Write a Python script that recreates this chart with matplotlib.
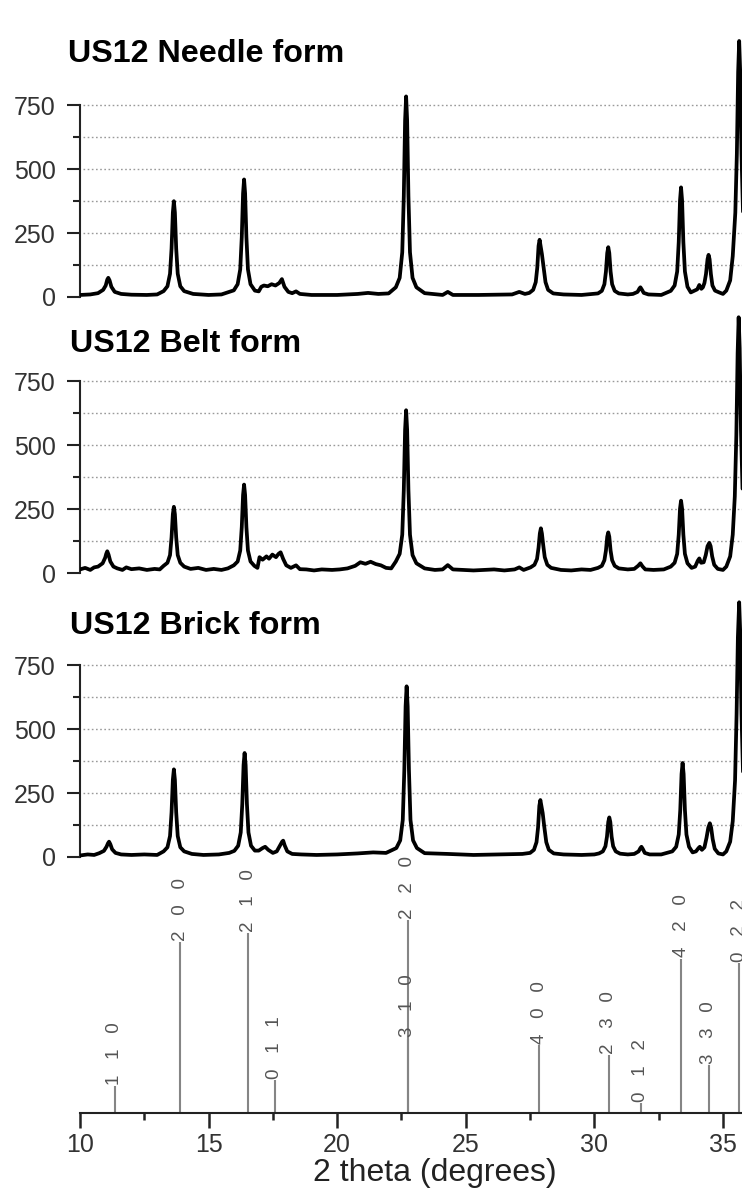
import matplotlib
matplotlib.use("Agg")
import matplotlib.pyplot as plt
from matplotlib.ticker import FixedLocator

plt.rcParams['font.family'] = ['Liberation Sans', 'DejaVu Sans']

# ---------------- data ----------------
needle_2theta = [10.0, 10.4, 10.7, 10.9, 11.0, 11.06, 11.10, 11.15, 11.22, 11.35,
                 11.6, 12.0, 12.6, 13.0, 13.25, 13.40, 13.50, 13.56, 13.61, 13.65,
                 13.69, 13.74, 13.80, 13.90, 14.05, 14.4, 15.0, 15.5, 15.98, 16.13,
                 16.23, 16.29, 16.34, 16.38, 16.42, 16.47, 16.53, 16.63, 16.8, 16.95,
                 17.05, 17.15, 17.3, 17.45, 17.6, 17.75, 17.85, 17.95, 18.1, 18.25,
                 18.4, 18.55, 19.0, 20.0, 20.8, 21.2, 21.6, 22.0, 22.28, 22.43,
                 22.53, 22.59, 22.64, 22.68, 22.72, 22.77, 22.83, 22.93, 23.08, 23.4,
                 24.1, 24.3, 24.5, 25.5, 26.8, 27.08, 27.3, 27.47, 27.62, 27.72,
                 27.78, 27.83, 27.87, 27.91, 27.96, 28.02, 28.10, 28.2, 28.4, 28.8,
                 29.5, 30.14, 30.29, 30.39, 30.45, 30.50, 30.54, 30.58, 30.63, 30.69,
                 30.79, 30.95, 31.3, 31.5, 31.68, 31.75, 31.79, 31.84, 31.92, 32.1,
                 32.6, 32.97, 33.12, 33.22, 33.28, 33.33, 33.37, 33.41, 33.46, 33.52,
                 33.62, 33.75, 33.9, 34.0, 34.08, 34.16, 34.22, 34.28, 34.34, 34.40,
                 34.44, 34.48, 34.53, 34.59, 34.69, 34.85, 35.0, 35.13, 35.28, 35.38,
                 35.48, 35.54, 35.59, 35.63, 35.67, 35.72, 35.78]
needle_counts = [8, 10, 15, 28, 45, 68, 75, 65, 40, 20,
                 12, 9, 8, 10, 23, 42, 91, 190, 330, 375,
                 330, 190, 91, 42, 23, 12, 8, 10, 26, 50,
                 108, 235, 405, 460, 405, 235, 108, 50, 25, 22,
                 40, 45, 42, 50, 45, 55, 70, 40, 20, 15,
                 22, 12, 8, 8, 12, 16, 12, 14, 38, 75,
                 175, 395, 690, 785, 690, 395, 175, 75, 38, 15,
                 8, 20, 8, 8, 10, 20, 12, 16, 28, 58,
                 115, 200, 224, 200, 168, 120, 58, 28, 14, 10,
                 8, 14, 24, 50, 100, 172, 195, 172, 100, 50,
                 24, 14, 10, 12, 20, 33, 38, 30, 16, 10,
                 8, 24, 45, 100, 215, 378, 429, 378, 215, 100,
                 40, 18, 25, 30, 47, 32, 38, 55, 90, 148,
                 165, 148, 90, 45, 25, 18, 12, 25, 65, 160,
                 330, 560, 880, 1002, 880, 560, 330]

belt_2theta = [10.0, 10.2, 10.4, 10.55, 10.7, 10.88, 10.98, 11.02, 11.06, 11.11,
               11.18, 11.3, 11.45, 11.65, 11.8, 12.0, 12.3, 12.6, 12.9, 13.1,
               13.25, 13.40, 13.50, 13.56, 13.61, 13.65, 13.69, 13.74, 13.80, 13.90,
               14.05, 14.3, 14.6, 14.9, 15.2, 15.5, 15.75, 15.98, 16.13, 16.23,
               16.29, 16.34, 16.38, 16.42, 16.47, 16.53, 16.63, 16.78, 16.9, 16.98,
               17.1, 17.25, 17.35, 17.48, 17.62, 17.72, 17.8, 17.9, 18.02, 18.2,
               18.4, 18.55, 18.8, 19.1, 19.4, 19.8, 20.1, 20.4, 20.7, 20.9,
               21.1, 21.3, 21.5, 21.7, 21.9, 22.1, 22.28, 22.43, 22.53, 22.59,
               22.64, 22.68, 22.72, 22.77, 22.83, 22.93, 23.08, 23.4, 23.8, 24.1,
               24.3, 24.5, 24.9, 25.3, 25.7, 26.1, 26.5, 26.9, 27.08, 27.25,
               27.52, 27.67, 27.77, 27.83, 27.88, 27.92, 27.96, 28.01, 28.07, 28.17,
               28.32, 28.7, 29.1, 29.5, 29.85, 30.14, 30.29, 30.39, 30.45, 30.50,
               30.54, 30.58, 30.63, 30.69, 30.79, 30.95, 31.3, 31.55, 31.7, 31.79,
               31.87, 31.98, 32.3, 32.7, 32.97, 33.12, 33.22, 33.28, 33.33, 33.37,
               33.41, 33.46, 33.52, 33.62, 33.78, 33.92, 34.02, 34.08, 34.15, 34.25,
               34.33, 34.40, 34.47, 34.52, 34.58, 34.66, 34.8, 35.0, 35.13, 35.28,
               35.38, 35.46, 35.52, 35.57, 35.61, 35.65, 35.70, 35.76]
belt_counts = [14, 20, 12, 22, 25, 38, 60, 75, 85, 72,
               45, 25, 18, 12, 22, 15, 18, 12, 16, 14,
               28, 40, 70, 140, 230, 259, 230, 140, 70, 40,
               25, 16, 20, 12, 16, 12, 18, 30, 45, 88,
               180, 305, 346, 305, 180, 88, 45, 28, 20, 62,
               52, 65, 56, 72, 62, 75, 81, 55, 30, 20,
               30, 15, 14, 10, 14, 12, 14, 18, 28, 42,
               36, 44, 35, 30, 20, 18, 45, 75, 150, 325,
               560, 637, 560, 325, 150, 70, 38, 18, 12, 14,
               31, 14, 12, 10, 12, 14, 10, 14, 22, 12,
               22, 32, 55, 100, 155, 175, 155, 110, 62, 32,
               20, 12, 10, 14, 12, 20, 28, 50, 88, 142,
               159, 142, 88, 50, 28, 18, 14, 16, 28, 38,
               26, 14, 12, 14, 25, 40, 75, 150, 252, 283,
               252, 150, 75, 38, 20, 25, 48, 57, 40, 42,
               70, 105, 118, 105, 65, 32, 16, 12, 25, 65,
               150, 300, 540, 860, 1001, 880, 560, 330]

brick_2theta = [10.0, 10.3, 10.55, 10.75, 10.93, 11.03, 11.09, 11.13, 11.18, 11.25,
                11.38, 11.6, 12.0, 12.5, 13.0, 13.25, 13.40, 13.50, 13.56, 13.61,
                13.65, 13.69, 13.74, 13.80, 13.90, 14.05, 14.35, 14.8, 15.4, 15.8,
                16.00, 16.15, 16.25, 16.31, 16.36, 16.40, 16.44, 16.49, 16.55, 16.65,
                16.8, 16.95, 17.1, 17.2, 17.32, 17.5, 17.65, 17.78, 17.86, 17.9,
                17.96, 18.06, 18.25, 18.6, 19.2, 20.0, 20.8, 21.4, 21.9, 22.30,
                22.45, 22.55, 22.61, 22.66, 22.70, 22.74, 22.79, 22.85, 22.95, 23.10,
                23.4, 24.3, 25.3, 26.3, 27.2, 27.50, 27.65, 27.75, 27.81, 27.86,
                27.90, 27.94, 27.99, 28.05, 28.13, 28.23, 28.42, 28.8, 29.5, 30.0,
                30.18, 30.33, 30.43, 30.49, 30.54, 30.58, 30.62, 30.67, 30.73, 30.83,
                31.0, 31.3, 31.55, 31.72, 31.79, 31.83, 31.88, 31.96, 32.15, 32.6,
                33.03, 33.18, 33.28, 33.34, 33.39, 33.43, 33.47, 33.52, 33.58, 33.68,
                33.82, 33.95, 34.05, 34.1, 34.18, 34.28, 34.36, 34.43, 34.49, 34.54,
                34.6, 34.68, 34.82, 35.0, 35.13, 35.28, 35.38, 35.47, 35.53, 35.58,
                35.63, 35.67, 35.72, 35.78]
brick_counts = [6, 10, 8, 15, 24, 40, 54, 60, 50, 30,
                16, 10, 8, 10, 8, 22, 38, 82, 175, 302,
                343, 302, 175, 82, 38, 22, 12, 8, 10, 16,
                24, 44, 96, 208, 360, 407, 360, 208, 96, 44,
                25, 25, 35, 40, 28, 16, 22, 45, 60, 64,
                45, 22, 12, 10, 8, 10, 14, 18, 16, 35,
                65, 145, 340, 590, 668, 590, 340, 145, 65, 35,
                15, 12, 8, 10, 12, 16, 28, 58, 115, 200,
                223, 200, 172, 120, 58, 28, 14, 10, 8, 10,
                14, 22, 42, 80, 137, 155, 137, 80, 42, 22,
                13, 10, 12, 22, 35, 40, 32, 16, 10, 10,
                22, 40, 88, 185, 325, 368, 325, 185, 88, 40,
                18, 22, 35, 40, 28, 38, 75, 115, 132, 115,
                70, 32, 14, 10, 22, 60, 140, 300, 560, 860,
                997, 880, 560, 330]

panel_titles = ["US12 Needle form", "US12 Belt form", "US12 Brick form"]
panel_x = [needle_2theta, belt_2theta, brick_2theta]
panel_y = [needle_counts, belt_counts, brick_counts]

y_major_ticks = [0, 250, 500, 750]
y_minor_ticks = [125, 375, 625]
grid_levels = [125, 250, 375, 500, 625, 750]

ref_hkl = ["110", "200", "210", "011", "310", "220", "400", "230", "012", "420", "330", "022"]
ref_2theta = [11.36, 13.89, 16.55, 17.58, 22.74, 22.74, 27.86, 30.55, 31.81, 33.37, 34.44, 35.63]
ref_intensity = [13.9, 88.7, 93.1, 17.0, 38.5, 100.0, 35.0, 30.0, 4.8, 80.0, 24.7, 77.5]

x_major_ticks = [10, 15, 20, 25, 30, 35]
x_minor_ticks = [12.5, 17.5, 22.5, 27.5, 32.5]
x_label = "2 theta (degrees)"

# ---------------- layout ----------------
W, H = 742, 1191
fig = plt.figure(figsize=(W / 100, H / 100), dpi=100)

XMIN, XMAX = 10.0, 35.74
left = 80 / W
width = 1 - left

px_per_count = 0.2555
ylo, yhi = -20, 1020
panel_h_px = (yhi - ylo) * px_per_count
zero_rows = [297, 573, 857]
title_baselines = [61.7, 351.7, 634.3]
title_lefts = [68.3, 70, 70]

for i in range(3):
    bottom_px = zero_rows[i] + (-ylo) * px_per_count
    ax = fig.add_axes([left, 1 - bottom_px / H, width, panel_h_px / H])
    ax.set_facecolor('none')
    ax.set_xlim(XMIN, XMAX)
    ax.set_ylim(ylo, yhi)
    ax.hlines(grid_levels, XMIN + 0.12, XMAX, colors='#9a9a9a', linewidth=1.0,
              linestyles=(0, (1.2, 1.8)), zorder=1)
    ax.plot(panel_x[i], panel_y[i], color='black', lw=2.7, solid_joinstyle='round',
            solid_capstyle='round', zorder=3)
    for s in ['top', 'right', 'bottom']:
        ax.spines[s].set_visible(False)
    ax.spines['left'].set_bounds(0, 750)
    ax.spines['left'].set_linewidth(1.5)
    ax.spines['left'].set_color('#222222')
    ax.set_xticks([])
    ax.yaxis.set_major_locator(FixedLocator(y_major_ticks))
    ax.yaxis.set_minor_locator(FixedLocator(y_minor_ticks))
    ax.tick_params(axis='y', which='major', length=9.5, width=1.5, color='#222222',
                   labelsize=18, labelcolor='#333333', pad=8)
    ax.tick_params(axis='y', which='minor', length=5, width=1.5, color='#222222')
    fig.text(title_lefts[i] / W, 1 - title_baselines[i] / H, panel_titles[i],
             fontsize=23.2, fontweight='bold', ha='left', va='baseline', color='black')

# ---------------- reference stick pattern ----------------
base_px = 1112.7
px_per_unit = 1.927
ymax_ref = 126
axr = fig.add_axes([left, 1 - base_px / H, width, ymax_ref * px_per_unit / H])
axr.set_facecolor('none')
axr.set_xlim(XMIN, XMAX)
axr.set_ylim(0, ymax_ref)
axr.vlines(ref_2theta, 0, ref_intensity, colors='#858585', linewidth=1.5, zorder=2)
for hkl, x, h in zip(ref_hkl, ref_2theta, ref_intensity):
    axr.text(x, h + 0.6, "   ".join(list(hkl)), rotation=90, ha='center', va='bottom',
             fontsize=13.5, color='#555555', zorder=3)
for s in ['top', 'right', 'left']:
    axr.spines[s].set_visible(False)
axr.spines['bottom'].set_linewidth(1.5)
axr.spines['bottom'].set_color('#222222')
axr.set_yticks([])
axr.xaxis.set_major_locator(FixedLocator(x_major_ticks))
axr.xaxis.set_minor_locator(FixedLocator(x_minor_ticks))
axr.tick_params(axis='x', which='major', length=10.5, width=1.8, color='#222222',
                labelsize=18, labelcolor='#333333', pad=4)
axr.tick_params(axis='x', which='minor', length=5, width=1.8, color='#222222')

fig.text(435 / W, 1 - 1181 / H, x_label, fontsize=23, ha='center', va='baseline', color='#222222')

fig.savefig("out.png", dpi=100)
